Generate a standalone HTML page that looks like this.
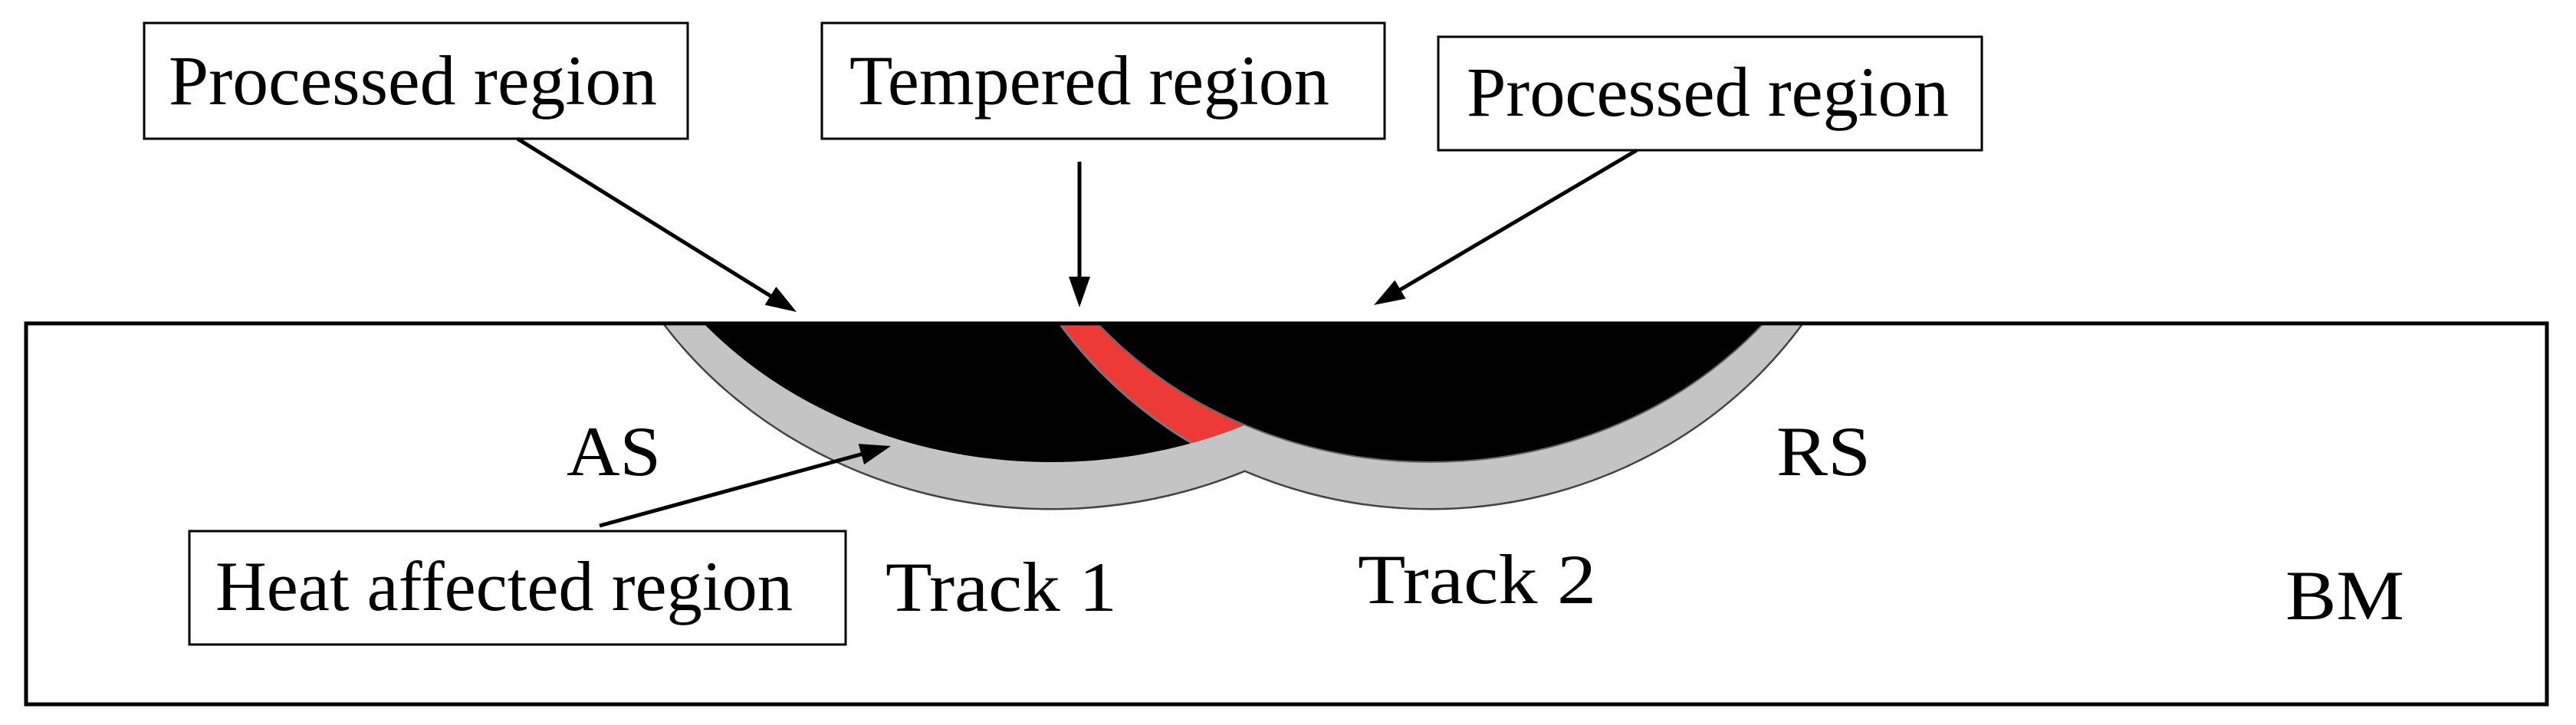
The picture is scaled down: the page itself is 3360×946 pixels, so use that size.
<!DOCTYPE html>
<html><head><meta charset="utf-8"><style>html,body{margin:0;padding:0;background:#fff;}svg{display:block}</style></head>
<body>
<svg width="3360" height="946" viewBox="0 0 3360 946" xmlns="http://www.w3.org/2000/svg">
<defs>
<clipPath id="below"><rect x="0" y="422" width="3360" height="524"/></clipPath>
<clipPath id="t1in"><ellipse cx="1371" cy="100" rx="590" ry="503"/></clipPath>
</defs>
<rect x="34" y="422" width="3288" height="497" fill="#fff" stroke="#000" stroke-width="5"/>
<g clip-path="url(#below)">
<ellipse cx="1371" cy="100" rx="615" ry="563" fill="none" stroke="#444" stroke-width="5"/>
<ellipse cx="1866" cy="100" rx="590" ry="563" fill="none" stroke="#444" stroke-width="5"/>
<ellipse cx="1371" cy="100" rx="615" ry="563" fill="#c4c4c4"/>
<ellipse cx="1866" cy="100" rx="590" ry="563" fill="#c4c4c4"/>
<ellipse cx="1371" cy="100" rx="590" ry="503" fill="#000"/>
<g clip-path="url(#t1in)">
<ellipse cx="1866" cy="100" rx="590" ry="563" fill="#ee3a36" stroke="#777" stroke-width="3"/>
</g>
<ellipse cx="1866" cy="100" rx="565" ry="503" fill="#000" stroke="#666" stroke-width="2"/>
</g>
<line x1="34" y1="422" x2="3322" y2="422" stroke="#000" stroke-width="5"/>
<g fill="#fff" stroke="#000" stroke-width="3">
<rect x="188" y="30" width="709" height="151"/>
<rect x="1072" y="30" width="734" height="151"/>
<rect x="1876" y="48" width="709" height="148"/>
<rect x="247" y="693" width="856" height="148"/>
</g>
<g stroke="#000" stroke-width="5" fill="none">
<line x1="675" y1="181" x2="1008" y2="388"/>
<line x1="1408" y1="211" x2="1408" y2="365"/>
<line x1="2135" y1="196" x2="1823" y2="380"/>
<line x1="782" y1="686" x2="1126" y2="592"/>
</g>
<g fill="#000">
<polygon points="1039,407 997.6,397.9 1012.4,374.1"/>
<polygon points="1408,401 1394,361 1422,361"/>
<polygon points="1792,398 1819.4,365.6 1833.6,389.8"/>
<polygon points="1162,582 1127.1,606.1 1119.7,579.1"/>
</g>
<g font-family="'Liberation Serif', serif" font-size="92" fill="#000">
<text x="220" y="136" textLength="637" lengthAdjust="spacingAndGlyphs">Processed region</text>
<text x="1108" y="136" textLength="626" lengthAdjust="spacingAndGlyphs">Tempered region</text>
<text x="1913" y="151" textLength="629" lengthAdjust="spacingAndGlyphs">Processed region</text>
<text x="281" y="796" textLength="753" lengthAdjust="spacingAndGlyphs">Heat affected region</text>
<text x="739" y="620" textLength="123" lengthAdjust="spacingAndGlyphs">AS</text>
<text x="2317" y="620" textLength="123" lengthAdjust="spacingAndGlyphs">RS</text>
<text x="1155" y="797" textLength="302" lengthAdjust="spacingAndGlyphs">Track 1</text>
<text x="1771" y="787" textLength="311" lengthAdjust="spacingAndGlyphs">Track 2</text>
<text x="2981" y="808" textLength="155" lengthAdjust="spacingAndGlyphs">BM</text>
</g>
</svg>
</body></html>
